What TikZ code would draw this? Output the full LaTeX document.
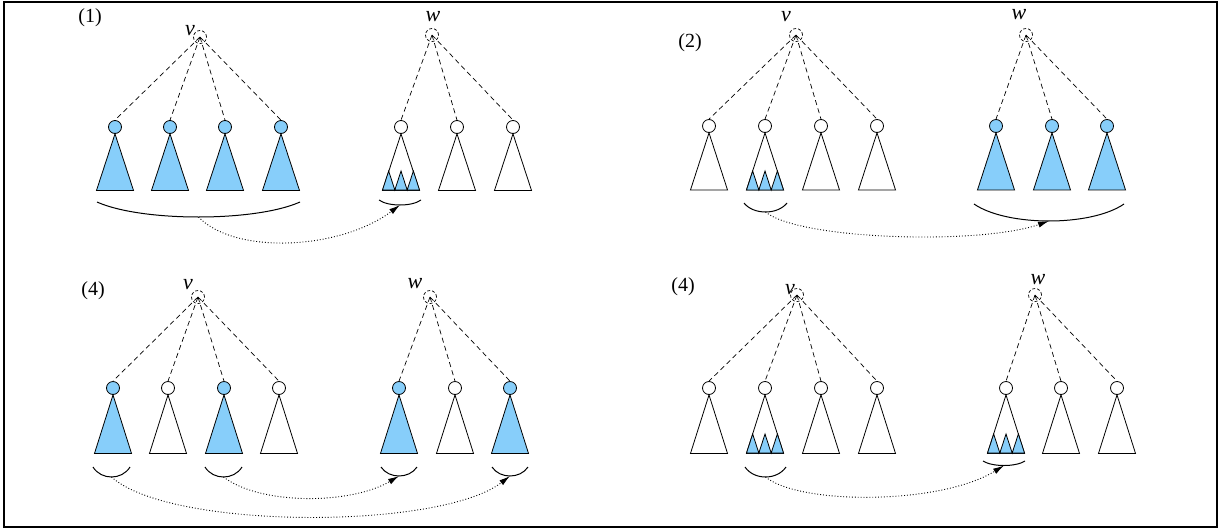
\documentclass[tikz,border=0pt]{standalone}
\usepackage{fontspec}
\setmainfont{Liberation Serif}
\usetikzlibrary{arrows.meta}
\definecolor{sky}{RGB}{135,206,250}
\tikzset{
  kid/.style={circle,draw,minimum size=13pt,inner sep=0pt,line width=0.8pt},
  root/.style={circle,draw,dashed,dash pattern=on 3pt off 2pt,minimum size=13pt,inner sep=0pt,line width=0.7pt},
  link/.style={dash pattern=on 5pt off 3.5pt,line width=0.7pt},
  tri/.style={line width=0.8pt,line join=miter},
  brace/.style={line width=1pt},
  hop/.style={dotted,line width=0.9pt,-{Latex[length=11pt,width=6pt]}},
  tag/.style={font=\fontsize{20}{20}\selectfont,inner sep=0pt},
  var/.style={font=\fontsize{22}{22}\selectfont\itshape,inner sep=0pt}
}
% one child: its root circle and the triangle of its subtree
\newcommand\kidtree[5]{%
  \node[kid,fill=#5] (#1) at (#2,#3) {};
  \draw[tri,fill=#5] (#1.south) -- ++(-18.5,#4) -- ++(37,0) -- cycle;
}
% three small shaded subtrees along the base of a triangle
\newcommand\leaves[3]{%
  \draw[tri,fill=sky] (#1-18.5,#2) -- ++(6.17,-#3) -- ++(6.17,#3) -- ++(6.17,-#3)
    -- ++(6.17,#3) -- ++(6.17,-#3) -- ++(6.17,#3) -- cycle;
}
% a smile-shaped bracket from x1 to x2 at height y, sagging by d;
% its lowest point is named
\newcommand\smilearc[5]{%
  \draw[brace] (#2,#4) .. controls ({#2+0.22*(#3-#2)},{#4+1.333*#5})
     and ({#3-0.22*(#3-#2)},{#4+1.333*#5}) .. (#3,#4);
  \coordinate (#1) at ({(#2+#3)/2},{#4+#5});
}
\begin{document}
\begin{tikzpicture}[x=1pt,y=-1pt]
\useasboundingbox (0,0) rectangle (1221,531);
\draw[line width=2pt] (4,1.5) rectangle (1217,526.5);

%% ---------------- panel (1) ----------------
\node[tag] (t1) at (90,18) {(1)};
\node[root] (v1) at (200,37) {};
\node[var] (lv1) at (190,31) {v};
\node[root] (w1) at (432,35) {};
\node[var] (lw1) at (433,17) {w};
\kidtree{a1}{115}{127}{56.5}{sky}
\kidtree{a2}{170}{127}{56.5}{sky}
\kidtree{a3}{225}{127}{56.5}{sky}
\kidtree{a4}{281}{127}{56.5}{sky}
\kidtree{b1}{401}{127}{56.5}{white}
\kidtree{b2}{457}{127}{56.5}{white}
\kidtree{b3}{513}{127}{56.5}{white}
\leaves{401}{190}{19}
\foreach \k in {a1,a2,a3,a4} \draw[link] (v1.center) -- (\k.north);
\foreach \k in {b1,b2,b3} \draw[link] (w1.center) -- (\k.north);
\smilearc{s1}{97}{300}{202}{15}
\smilearc{e1}{379}{421}{200}{5}
\draw[hop] (s1) .. controls (235,255) and (340,250) .. (e1);

%% ---------------- panel (2) ----------------
\node[tag] (t2) at (690,43) {(2)};
\node[root] (v2) at (796,35) {};
\node[var] (lv2) at (786,17) {v};
\node[root] (w2) at (1026,35) {};
\node[var] (lw2) at (1019,15) {w};
\kidtree{c1}{709}{126}{57}{white}
\kidtree{c2}{765}{126}{57}{white}
\kidtree{c3}{821}{126}{57}{white}
\kidtree{c4}{877}{126}{57}{white}
\kidtree{d1}{996}{126}{57}{sky}
\kidtree{d2}{1052}{126}{57}{sky}
\kidtree{d3}{1107}{126}{57}{sky}
\leaves{765}{190}{19}
\foreach \k in {c1,c2,c3,c4} \draw[link] (v2.center) -- (\k.north);
\foreach \k in {d1,d2,d3} \draw[link] (w2.center) -- (\k.north);
\smilearc{s2}{744}{787}{203}{9}
\smilearc{e2}{974}{1124}{204}{17}
\draw[hop] (s2) .. controls (800,240) and (980,245) .. (e2);

%% ---------------- panel (4), left ----------------
\node[tag] (t3) at (93,291) {(4)};
\node[root] (v3) at (198,297) {};
\node[var] (lv3) at (188,285) {v};
\node[root] (w3) at (430,297) {};
\node[var] (lw3) at (415,284) {w};
\kidtree{e1k}{113}{388}{58.5}{sky}
\kidtree{e2k}{168}{388}{58.5}{white}
\kidtree{e3k}{224}{388}{58.5}{sky}
\kidtree{e4k}{279}{388}{58.5}{white}
\kidtree{f1}{399}{388}{58.5}{sky}
\kidtree{f2}{455}{388}{58.5}{white}
\kidtree{f3}{510}{388}{58.5}{sky}
\foreach \k in {e1k,e2k,e3k,e4k} \draw[link] (v3.center) -- (\k.north);
\foreach \k in {f1,f2,f3} \draw[link] (w3.center) -- (\k.north);
\smilearc{s3a}{93}{130}{467}{10}
\smilearc{s3b}{205}{242}{467}{10}
\smilearc{e3a}{381}{417}{467}{9}
\smilearc{e3b}{492}{528}{467}{9}
\draw[hop] (s3a) .. controls (170,530) and (440,530) .. (e3b);
\draw[hop] (s3b) .. controls (260,505) and (350,505) .. (e3a);

%% ---------------- panel (4), right ----------------
\node[tag] (t4) at (683,287) {(4)};
\node[root] (v4) at (797,295) {};
\node[var] (lv4) at (790,290) {v};
\node[root] (w4) at (1035,295) {};
\node[var] (lw4) at (1038,280) {w};
\kidtree{g1}{709}{388}{58.5}{white}
\kidtree{g2}{765}{388}{58.5}{white}
\kidtree{g3}{821}{388}{58.5}{white}
\kidtree{g4}{877}{388}{58.5}{white}
\kidtree{h1}{1006}{388}{58.5}{white}
\kidtree{h2}{1061}{388}{58.5}{white}
\kidtree{h3}{1117}{388}{58.5}{white}
\leaves{765}{453}{19}
\leaves{1006}{453}{19}
\foreach \k in {g1,g2,g3,g4} \draw[link] (v4.center) -- (\k.north);
\foreach \k in {h1,h2,h3} \draw[link] (w4.center) -- (\k.north);
\smilearc{s4}{745}{786}{467}{10}
\smilearc{e4}{983}{1025}{461}{4.5}
\draw[hop] (s4) .. controls (800,505) and (940,505) .. (e4);
\end{tikzpicture}
\end{document}
